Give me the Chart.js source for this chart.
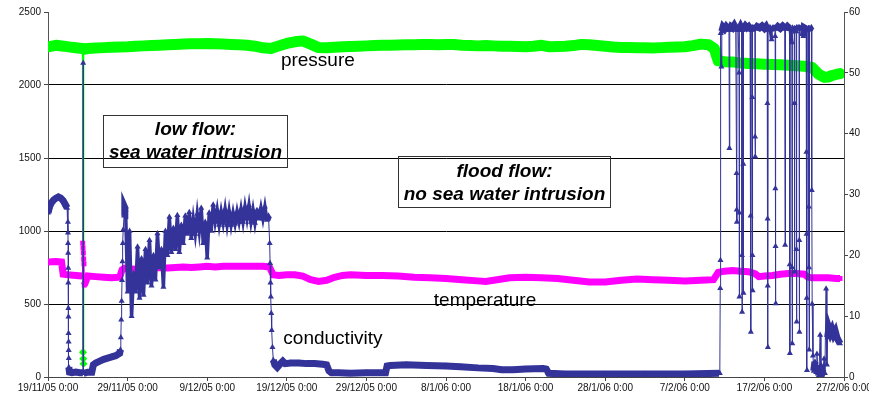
<!DOCTYPE html>
<html>
<head>
<meta charset="utf-8">
<title>pressure, temperature, conductivity</title>
<script src="https://cdn.jsdelivr.net/npm/chart.js@4.4.1/dist/chart.umd.min.js"></script>
<style>
  html, body { margin: 0; padding: 0; background: #fff; overflow: hidden; }
  #wrap { width: 869px; height: 399px; }
</style>
</head>
<body>
<div id="wrap"><canvas id="myChart" width="869" height="399"></canvas></div>
<script>
'use strict';

// ** DATA ** (x = days since 19/11/05 0:00)

let startDate = Date.UTC(2005, 10, 19);

let pressureDays = [
  0, 1, 2, 3, 4, 4.35, 4.4, 4.43, 4.46, 4.5,
  5, 6, 7, 8, 9, 10, 11, 12, 13, 14,
  15, 16, 17, 18, 19, 20, 21, 22, 23, 24,
  25, 26, 27, 28, 29, 30, 31, 32, 33, 34,
  35, 36, 37, 38, 39, 40, 41, 42, 43, 44,
  45, 46, 47, 48, 49, 50, 51, 52, 53, 54,
  55, 56, 57, 58, 59, 60, 61, 62, 63, 64,
  65, 66, 67, 68, 69, 70, 71, 72, 73, 74,
  75, 76, 77, 78, 79, 80, 81, 82, 83, 83.7,
  84.2, 85, 86, 87, 88, 89, 90, 91, 92, 93,
  94, 95, 96, 96.8, 97.5, 98, 98.5, 99, 99.5
];
let pressureValues = [
  2262, 2272, 2266, 2258, 2252, 2250, 170, 125, 90, 2245,
  2250, 2254, 2256, 2258, 2260, 2262, 2266, 2268, 2270, 2273,
  2275, 2278, 2280, 2282, 2283, 2284, 2282, 2280, 2277, 2275,
  2272, 2266, 2255, 2250, 2268, 2285, 2296, 2302, 2280, 2256,
  2255, 2258, 2262, 2263, 2265, 2268, 2270, 2272, 2273, 2274,
  2275, 2276, 2278, 2277, 2276, 2278, 2277, 2272, 2270, 2268,
  2270, 2268, 2266, 2265, 2263, 2262, 2266, 2272, 2262, 2264,
  2266, 2270, 2278, 2276, 2270, 2265, 2260, 2257, 2256, 2255,
  2255, 2254, 2256, 2258, 2260, 2262, 2270, 2280, 2275, 2250,
  2165, 2160, 2158, 2150, 2148, 2145, 2142, 2140, 2138, 2135,
  2132, 2128, 2120, 2075, 2052, 2055, 2065, 2072, 2078
];

let temperatureDays = [
  0, 1, 1.7, 1.9, 2.5, 3.5, 4.3, 4.36, 4.4, 4.44,
  4.48, 4.52, 4.56, 5, 6, 7, 8, 9, 9.3, 9.6,
  10, 11, 12, 13, 14, 15, 16, 17, 18, 19,
  20, 21, 22, 23, 24, 25, 26, 27, 27.8, 28.3,
  29, 30, 31, 32, 33, 34, 35, 36, 37, 38,
  40, 42, 44, 46, 48, 50, 52, 54, 55, 56,
  58, 60, 62, 64, 66, 68, 70, 72, 74, 76,
  78, 80, 82, 83.6, 84.2, 85, 86, 87, 88, 88.8,
  89.3, 90, 91, 92, 93, 94, 95, 95.5, 96, 97,
  98, 99, 99.5
];
let temperatureValues = [
  18.9, 19.0, 18.9, 16.9, 16.8, 16.7, 16.6, 22.0, 21.2, 20.4,
  19.4, 18.6, 15.1, 16.6, 16.5, 16.4, 16.3, 16.4, 17.6, 17.9,
  17.8, 17.7, 17.9, 17.9, 18.0, 17.9, 18.0, 18.1, 18.0, 18.1,
  18.2, 18.1, 18.2, 18.2, 18.2, 18.2, 18.2, 18.2, 18.1, 16.8,
  16.7, 16.8, 16.8, 16.6, 16.0, 15.7, 15.9, 16.4, 16.7, 16.8,
  16.7, 16.7, 16.6, 16.4, 16.3, 16.2, 16.0, 15.8, 15.7, 15.9,
  16.3, 16.4, 16.3, 16.2, 15.9, 15.6, 15.6, 15.9, 16.1, 16.0,
  15.9, 15.8, 15.9, 16.0, 17.2, 17.4, 17.5, 17.4, 17.3, 17.0,
  16.5, 16.6, 16.7, 16.9, 17.0, 17.0, 16.9, 16.4, 16.3, 16.3,
  16.3, 16.2, 16.2
];

let conductivityDays = [
  0, 0.2, 0.4, 0.7, 1.0, 1.3, 1.6, 1.9, 2.2, 2.4,
  2.5, 2.51, 2.52, 2.53, 2.54, 2.55, 2.56, 2.57, 2.58, 2.59,
  2.6, 2.61, 2.62, 2.7, 3.0, 3.5, 4.0, 4.38, 4.42, 4.46,
  5.0, 5.5, 5.7, 6.0, 6.5, 7.0, 7.5, 8.0, 8.5, 9.0,
  9.1, 9.15, 9.2, 9.25, 9.3, 9.35, 9.4, 9.45, 9.55, 9.65,
  9.75, 10.0, 10.25, 10.5, 10.75, 11.0, 11.25, 11.5, 11.75, 12.0,
  12.25, 12.5, 12.75, 13.0, 13.25, 13.5, 13.75, 14.0, 14.25, 14.5,
  14.75, 15.0, 15.25, 15.5, 15.75, 16.0, 16.25, 16.5, 16.75, 17.0,
  17.25, 17.5, 17.75, 18.0, 18.25, 18.5, 18.75, 19.0, 19.25, 19.5,
  19.75, 20.0, 20.25, 20.5, 20.75, 21.0, 21.25, 21.5, 21.75, 22.0,
  22.25, 22.5, 22.75, 23.0, 23.25, 23.5, 23.75, 24.0, 24.25, 24.5,
  24.75, 25.0, 25.25, 25.5, 25.75, 26.0, 26.25, 26.5, 26.75, 27.0,
  27.25, 27.5, 27.7,
  27.85, 27.9, 27.95, 28.0, 28.05, 28.1, 28.2, 28.3, 28.5, 28.8,
  29.2, 29.5, 29.8, 30.5, 31.5, 32.5, 33.5, 34.5, 35.0, 35.3,
  35.6, 36.5, 38, 40, 42.4, 42.6, 43, 45, 47.6, 50,
  51.8, 54, 55.9, 57, 58.4, 60, 62.2, 62.6, 62.9, 65,
  70, 75, 80, 84.3, 84.4, 84.45, 84.48, 84.52, 84.6, 84.65,
  84.8, 85.0, 85.2, 85.4, 85.55, 85.6, 85.65, 85.8, 86.0, 86.2,
  86.4, 86.5, 86.52, 86.54, 86.56, 86.7, 86.82, 86.84, 86.86, 86.88,
  87.0, 87.15, 87.18, 87.2, 87.22, 87.33, 87.35, 87.37, 87.39, 87.6,
  87.8, 88.0, 88.2, 88.27, 88.3, 88.33, 88.45, 88.48, 88.5, 88.52,
  88.54, 88.8, 88.83, 88.85, 88.88, 89.1, 89.4, 89.7, 90.0, 90.2,
  90.35, 90.38, 90.4, 90.42, 90.44, 90.46, 90.7, 90.9, 91.0, 91.3,
  91.35, 91.38, 91.4, 91.42, 91.44, 91.7, 92.0, 92.3, 92.55, 92.6,
  92.65, 92.9, 93.15, 93.18, 93.2, 93.23, 93.45, 93.48, 93.5, 93.53,
  93.75, 93.78, 93.8, 93.83, 94.0, 94.03, 94.05, 94.08, 94.35, 94.38,
  94.4, 94.43, 94.7, 94.9, 95.0, 95.25, 95.28, 95.3, 95.32, 95.35,
  95.38, 95.55, 95.58, 95.6, 95.63, 95.66, 95.9, 95.95, 96.0, 96.1,
  96.2, 96.35, 96.5, 96.6, 96.7, 96.85, 97.0, 97.1, 97.2, 97.35,
  97.5, 97.6, 97.75, 97.85, 97.95, 98.1, 98.3, 98.5, 98.7, 98.9,
  99.1, 99.3, 99.5
];
let conductivityValues = [
  27.0, 28.0, 28.6, 29.1, 29.4, 29.6, 29.4, 29.0, 28.3, 27.8,
  25.5, 23.7, 22.0, 20.4, 17.9, 15.5, 11.3, 9.9, 7.2, 5.8,
  4.4, 3.1, 1.6, 0.8, 0.7, 0.8, 0.7, 0.7, 51.6, 0.6,
  0.8, 0.8, 2.0, 2.3, 2.6, 2.9, 3.1, 3.3, 3.5, 3.9,
  4.5, 6.5, 9.4, 12.5, 15.9, 19.0, 22.0, 24.2, 26.5, 27.8,
  27.5, 14.0, 24.0, 10.0, 17.0, 14.0, 21.4, 13.0, 19.5, 13.5,
  21.0, 15.5, 22.5, 15.0, 20.0, 16.0, 23.6, 18.0, 21.0, 14.8,
  24.0, 20.0, 26.3, 20.5, 24.5, 21.0, 26.6, 20.5, 25.0, 22.0,
  26.5, 23.5, 27.1, 22.8, 26.0, 23.5, 26.8, 24.0, 27.8, 22.0,
  25.5, 19.6, 27.0, 24.0, 28.3, 25.5, 27.5, 25.0, 27.2, 25.3,
  27.6, 25.0, 27.3, 25.0, 27.0, 25.2, 27.2, 25.5, 27.6, 25.5,
  28.0, 26.0, 28.2, 25.5, 27.5, 25.3, 27.4, 26.0, 27.8, 26.0,
  28.0, 25.8, 26.5,
  22.0, 18.7, 15.5, 13.2, 10.5, 7.7, 4.9, 2.8, 2.0, 1.6,
  2.2, 2.6, 2.2, 2.3, 2.3, 2.2, 2.2, 2.1, 2.0, 1.0,
  0.7, 0.7, 0.6, 0.7, 0.7, 1.8, 1.9, 2.0, 1.9, 1.8,
  1.7, 1.5, 1.4, 1.2, 1.2, 1.3, 1.4, 1.3, 0.6, 0.5,
  0.5, 0.5, 0.5, 0.6, 0.6, 14.6, 19.2, 56.5, 51.0, 56.8,
  57.5, 57.2, 57.6, 57.3, 57.0, 37.6, 57.2, 57.6, 57.4, 57.8,
  57.3, 33.5, 27.5, 25.5, 57.0, 57.5, 50.0, 27.0, 13.2, 57.3,
  57.6, 57.2, 20.0, 10.7, 57.0, 57.4, 35.0, 13.8, 57.3, 57.7,
  57.4, 57.6, 57.2, 26.5, 7.4, 57.0, 57.5, 46.0, 20.0, 14.2,
  57.3, 57.4, 39.5, 36.2, 57.2, 57.6, 57.4, 57.7, 57.3, 57.6,
  57.2, 45.0, 26.0, 15.0, 4.9, 57.0, 57.5, 55.5, 57.4, 57.3,
  56.0, 31.0, 21.5, 12.1, 57.2, 57.6, 57.3, 57.7, 57.4, 21.7,
  57.2, 57.6, 57.3, 18.5, 3.9, 57.2, 55.0, 18.0, 5.5, 57.4,
  57.2, 45.0, 17.3, 57.0, 56.8, 21.0, 9.1, 57.5, 57.3, 22.5,
  7.4, 57.2, 57.6, 56.0, 57.4, 57.2, 37.0, 23.5, 13.0, 1.1,
  57.0, 57.3, 28.0, 18.0, 4.5, 57.2, 57.5, 30.7, 12.0, 3.5,
  1.0, 2.5, 0.8, 3.8, 1.5, 0.3, 6.9, 2.0, 0.5, 1.2,
  3.0, 0.6, 14.5, 2.0, 6.5, 8.0, 7.2, 7.8, 7.0, 7.5,
  6.5, 6.0, 5.5
];

let leftTicks = [0, 500, 1000, 1500, 2000, 2500];
let rightTicks = [0, 10, 20, 30, 40, 50, 60];

// ** HELPERS **

function makePoints(days, values) {
  if (days.length !== values.length) {
    throw new Error('length mismatch ' + days.length + ' / ' + values.length);
  }
  let points = [];
  for (let i = 0; i < days.length; i++) {
    points.push({ x: days[i], y: values[i] });
  }
  return points;
}

function formatDay(v) {
  let d = new Date(startDate + v * 86400000);
  return d.getUTCDate() + '/' + (d.getUTCMonth() + 1) + '/' + String(d.getUTCFullYear()).slice(2) + ' 0:00';
}

// slow drift -> thick band, tidal swings -> medium, jumps -> thin line
function bandWidth(limit, thick, mid, thin) {
  return function (ctx) {
    let dy = Math.abs(ctx.p0.parsed.y - ctx.p1.parsed.y);
    let dx = Math.abs(ctx.p0.parsed.x - ctx.p1.parsed.x);
    if (dx < 0.08) return thin;
    if (dy > limit) return dx >= 0.2 && dx <= 0.3 ? mid : thin;
    return thick;
  };
}

// ** TEXT ON THE PLOT **

let labelPlugin = {
  id: 'plotLabels',
  afterDatasetsDraw(chart) {
    let c = chart.ctx;
    let x = chart.scales.x;
    let y = chart.scales.y;
    c.save();
    c.fillStyle = '#000';
    c.textAlign = 'center';
    c.textBaseline = 'middle';

    c.font = '19px "Liberation Sans", Arial, sans-serif';
    c.fillText('pressure', x.getPixelForValue(33.9), y.getPixelForValue(2165));
    c.fillText('temperature', x.getPixelForValue(54.9), y.getPixelForValue(520));
    c.fillText('conductivity', x.getPixelForValue(35.8), y.getPixelForValue(260));

    // boxes
    c.strokeStyle = '#333';
    c.lineWidth = 1;
    let boxes = [
      { x0: 6.9, x1: 30.0, y0: 1795, y1: 1438, lines: ['low flow:', 'sea water intrusion'], t: [1692, 1534] },
      { x0: 44.0, x1: 70.6, y0: 1514, y1: 1164, lines: ['flood flow:', 'no sea water intrusion'], t: [1404, 1247] }
    ];
    c.font = 'italic bold 19px "Liberation Sans", Arial, sans-serif';
    boxes.forEach(function (b) {
      let l = Math.round(x.getPixelForValue(b.x0)) + 0.5;
      let r = Math.round(x.getPixelForValue(b.x1)) + 0.5;
      let t = Math.round(y.getPixelForValue(b.y0)) + 0.5;
      let bt = Math.round(y.getPixelForValue(b.y1)) + 0.5;
      c.strokeRect(l, t, r - l, bt - t);
      let cx = (l + r) / 2;
      c.fillText(b.lines[0], cx, y.getPixelForValue(b.t[0]));
      c.fillText(b.lines[1], cx, y.getPixelForValue(b.t[1]));
    });
    c.restore();
  }
};

// ** CHART **

const ctx = document.getElementById('myChart');
const tickFont = { family: '"Liberation Sans", Arial, sans-serif', size: 10 };

let myChartObj = {
  type: 'line',
  data: {
    datasets: [{
      label: 'conductivity',
      data: makePoints(conductivityDays, conductivityValues),
      yAxisID: 'y2',
      order: 1,
      borderColor: '#333399',
      backgroundColor: '#333399',
      borderWidth: 1,
      segment: { borderWidth: bandWidth(1.5, 7, 3.5, 1) },
      pointStyle: 'triangle',
      pointRadius: 3.5,
      pointBorderWidth: 0,
      tension: 0
    },
    {
      label: 'temperature',
      data: makePoints(temperatureDays, temperatureValues),
      yAxisID: 'y2',
      order: 2,
      borderColor: '#ff00ff',
      backgroundColor: '#ff00ff',
      borderWidth: 7,
      segment: { borderWidth: bandWidth(2.5, 7, 1.5, 1.5) },
      pointStyle: 'rect',
      pointRadius: 3.5,
      pointBorderWidth: 0,
      tension: 0
    },
    {
      label: 'pressure',
      data: makePoints(pressureDays, pressureValues),
      yAxisID: 'y',
      order: 3,
      borderColor: '#00ff00',
      backgroundColor: '#00ff00',
      borderWidth: 11,
      borderJoinStyle: 'round',
      borderCapStyle: 'round',
      segment: { borderWidth: bandWidth(300, 11, 1.5, 1.5) },
      pointStyle: 'rectRot',
      pointRadius: function (c) { return c.raw && c.raw.y < 1000 ? 4 : 0; },
      pointBorderWidth: 0,
      tension: 0
    }]
  },
  options: {
    responsive: false,
    animation: false,
    events: [],
    layout: { padding: { top: 12, left: 0, right: 0, bottom: 0 } },
    plugins: {
      legend: { display: false },
      tooltip: { enabled: false }
    },
    scales: {
      x: {
        type: 'linear',
        min: 0,
        max: 100,
        border: { color: '#444' },
        grid: { drawOnChartArea: false, tickLength: 4, color: '#444' },
        ticks: {
          stepSize: 10,
          autoSkip: false,
          maxRotation: 0,
          padding: 1,
          color: '#111',
          font: tickFont,
          callback: function (v) { return formatDay(v); }
        },
        afterFit: function (s) { s.height = 22; s.paddingLeft = 0; s.paddingRight = 0; }
      },
      y: {
        position: 'left',
        min: 0,
        max: 2500,
        border: { color: '#555' },
        grid: {
          tickLength: 4,
          tickColor: '#444',
          color: function (c) { return c.tick && c.tick.value === 2500 ? 'rgba(0,0,0,0)' : '#000'; }
        },
        afterBuildTicks: function (s) { s.ticks = leftTicks.map(function (v) { return { value: v }; }); },
        ticks: { padding: 3, color: '#111', font: tickFont, callback: function (v) { return String(v); } },
        afterFit: function (s) { s.width = 48; }
      },
      y2: {
        position: 'right',
        min: 0,
        max: 60,
        border: { color: '#555' },
        grid: { drawOnChartArea: false, tickLength: 4, color: '#444' },
        afterBuildTicks: function (s) { s.ticks = rightTicks.map(function (v) { return { value: v }; }); },
        ticks: { padding: 1, color: '#111', font: tickFont, callback: function (v) { return String(v); } },
        afterFit: function (s) { s.width = 25; }
      }
    }
  },
  plugins: [labelPlugin]
};

new Chart(ctx, myChartObj);
</script>
</body>
</html>
